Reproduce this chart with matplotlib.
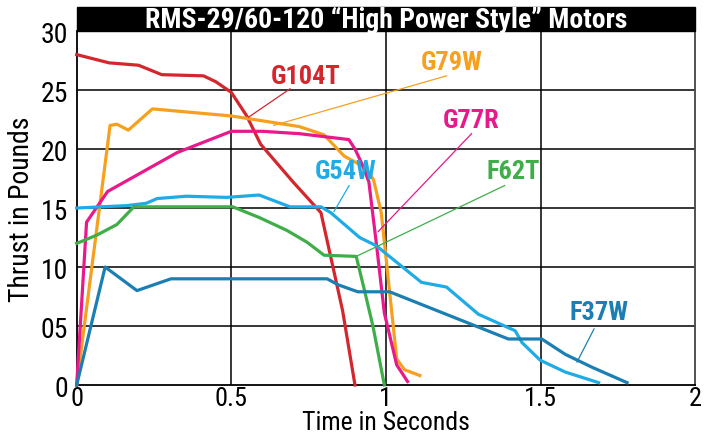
import matplotlib
matplotlib.use("Agg")
import matplotlib.pyplot as plt
from matplotlib import font_manager
from matplotlib.patches import Rectangle

# pick a condensed font if one is installed
names = {f.name for f in font_manager.fontManager.ttflist}
narrow = next((n for n in ["Liberation Sans Narrow", "Roboto Condensed", "DejaVu Sans"] if n in names), "DejaVu Sans")
plt.rcParams["font.family"] = [narrow, "DejaVu Sans"]

# thrust curves (time in s, thrust in lb)
g104t_t = [0, 0.105, 0.2, 0.275, 0.41, 0.45, 0.5, 0.55, 0.595, 0.7, 0.79, 0.86, 0.9]
g104t_v = [28.0, 27.3, 27.1, 26.3, 26.2, 25.7, 24.8, 22.8, 20.4, 17.2, 14.6, 6.3, 0.0]

g79w_t = [0, 0.108, 0.13, 0.167, 0.245, 0.5, 0.72, 0.8, 0.865, 0.935, 0.96, 0.985, 1.035, 1.06, 1.11]
g79w_v = [0, 22.0, 22.1, 21.6, 23.4, 22.8, 21.9, 21.2, 19.4, 18.4, 17.4, 14.6, 2.2, 1.3, 0.8]

g77r_t = [0, 0.032, 0.1, 0.325, 0.5, 0.6, 0.72, 0.88, 0.9, 0.925, 0.945, 0.97, 0.995, 1.035, 1.07]
g77r_v = [0, 13.8, 16.4, 19.7, 21.5, 21.5, 21.3, 20.8, 20.0, 18.6, 17.2, 11.8, 6.1, 1.7, 0.3]

g54w_t = [0, 0.16, 0.225, 0.26, 0.355, 0.485, 0.59, 0.69, 0.79, 0.822, 0.915, 0.969, 1.115, 1.196,
          1.299, 1.418, 1.44, 1.499, 1.58, 1.688]
g54w_v = [15.0, 15.2, 15.4, 15.8, 16.0, 15.9, 16.1, 15.1, 15.1, 14.6, 12.5, 11.8, 8.7, 8.3,
          6.0, 4.6, 3.6, 2.1, 1.1, 0.2]

f62t_t = [0, 0.065, 0.13, 0.185, 0.505, 0.59, 0.68, 0.745, 0.8, 0.904, 0.93, 0.958, 0.995]
f62t_v = [12.0, 12.7, 13.6, 15.1, 15.1, 14.2, 13.1, 12.1, 11.0, 10.9, 8.1, 5.0, 0.0]

f37w_t = [0, 0.092, 0.195, 0.305, 0.81, 0.845, 0.909, 1.012, 1.396, 1.504, 1.58, 1.667, 1.78]
f37w_v = [0, 10.0, 8.0, 9.0, 9.0, 8.5, 7.9, 7.9, 3.9, 3.9, 2.6, 1.5, 0.2]

motors = ["G104T", "G79W", "G77R", "G54W", "F62T", "F37W"]
colors = ["#d3272e", "#f7a01e", "#e8198b", "#1fabe6", "#3fae49", "#1b7fb3"]
curves = [(g104t_t, g104t_v), (g79w_t, g79w_v), (g77r_t, g77r_v),
          (g54w_t, g54w_v), (f62t_t, f62t_v), (f37w_t, f37w_v)]

# label text position and leader line (start, end) in data coords
label_pos = [(0.741, 26.2), (1.212, 27.4), (1.277, 22.5), (0.871, 18.1), (1.413, 18.1), (1.689, 6.2)]
leaders = [((0.69, 25.1), (0.556, 22.7)),
           ((1.196, 26.2), (0.637, 22.0)),
           ((1.277, 21.3), (0.975, 13.0)),
           ((0.881, 16.9), (0.832, 14.7)),
           ((1.384, 16.9), (0.904, 10.9)),
           ((1.673, 4.75), (1.618, 1.95))]

fig = plt.figure(figsize=(7.06, 4.39), dpi=100)
ax = fig.add_axes([0.1086, 0.1207, 0.876, 0.8064])

for x in [0.5, 1.0, 1.5]:
    ax.axvline(x, color="black", lw=1.1, zorder=1)
for y in [5, 10, 15, 20, 25]:
    ax.axhline(y, color="black", lw=1.1, zorder=1)

for (t, v), c in zip(curves, colors):
    ax.plot(t, v, color=c, lw=2.3, solid_joinstyle="round", zorder=3, clip_on=False)

for name, c, (lx, ly), (p0, p1) in zip(motors, colors, label_pos, leaders):
    ax.text(lx, ly, name, color=c, fontsize=19, fontweight="bold", ha="center", va="center", zorder=4)
    ax.plot([p0[0], p1[0]], [p0[1], p1[1]], color=c, lw=0.9, zorder=4)

ax.set_xlim(0, 2)
ax.set_ylim(0, 30)
ax.set_xticks([0, 0.5, 1, 1.5, 2])
ax.set_xticklabels(["0", "0.5", "1", "1.5", "2"])
ax.set_yticks([0, 5, 10, 15, 20, 25, 30])
ax.set_yticklabels(["0", "05", "10", "15", "20", "25", "30"])
ax.tick_params(length=0, labelsize=20)
ax.tick_params(axis="x", pad=1, labelsize=19)
ax.tick_params(axis="y", pad=6)
ax.set_xlabel("Time in Seconds", fontsize=18.5, labelpad=0)
ax.set_ylabel("Thrust in Pounds", fontsize=20, labelpad=4)

for s in ["left", "bottom"]:
    ax.spines[s].set_linewidth(1.3)
ax.spines["right"].set_color("#444444")
ax.spines["right"].set_linewidth(1.3)
ax.spines["top"].set_visible(False)

# black title bar above the plot
ax.add_patch(Rectangle((0, 1), 1, 0.068, transform=ax.transAxes, color="black", clip_on=False, zorder=5))
ax.text(0.5, 1.033, "RMS-29/60-120 \u201cHigh Power Style\u201d Motors", transform=ax.transAxes,
        color="white", fontsize=20, fontweight="bold", ha="center", va="center", zorder=6)

fig.savefig("out.png", dpi=100)
